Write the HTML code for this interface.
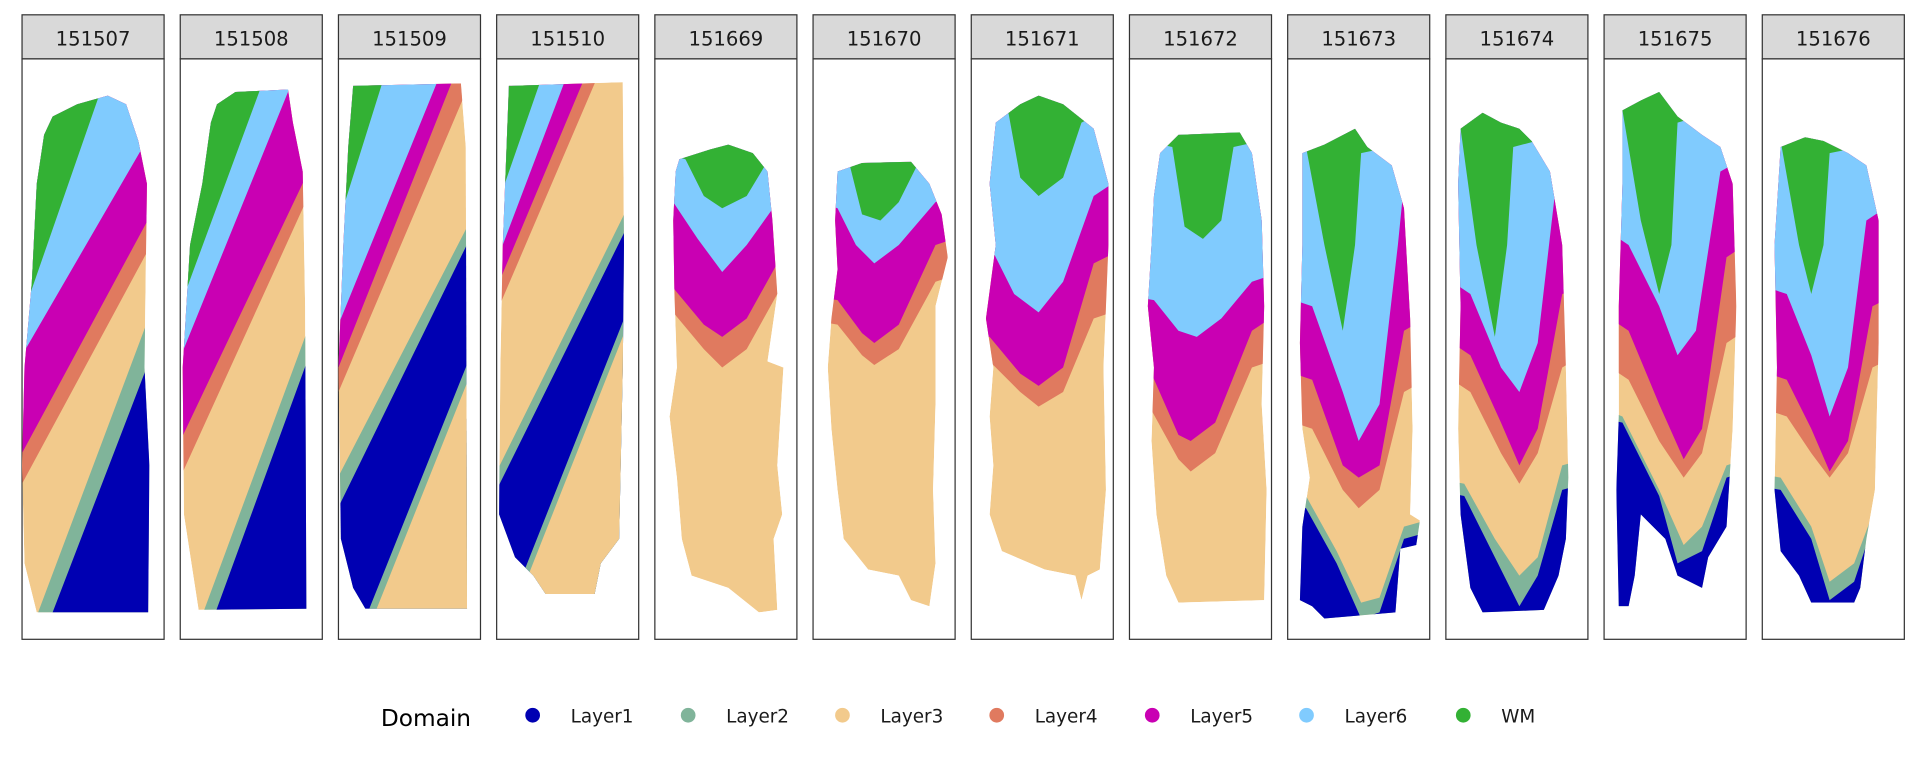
<!DOCTYPE html>
<html><head><meta charset="utf-8"><style>
html,body{margin:0;padding:0;background:#fff;width:1920px;height:768px;overflow:hidden;}
svg{display:block;font-family:"DejaVu Sans","Liberation Sans",sans-serif;}
</style></head><body>
<svg id="chart" width="1920" height="768" viewBox="0 0 1568 627" xmlns="http://www.w3.org/2000/svg" overflow="hidden">
<defs id="defs"></defs>
<g id="panels"></g>
<g id="legend">
<text x="311" y="593" font-size="19" fill="#000">Domain</text>
</g>
</svg>
<script>
const samples = ["151507","151508","151509","151510","151669","151670","151671","151672","151673","151674","151675","151676"];
const layerNames = ["Layer1","Layer2","Layer3","Layer4","Layer5","Layer6","WM"];
const layerColors = ["#0000b2","#80b49a","#f2ca8c","#e07a5f","#c900b3","#80cbfe","#33b134"];
// tissue outlines in local panel coordinates
const outlines = [
[[25,95],[45,85],[70,78],[85,85],[95,115],[102,150],[100,300],[104,380],[103,500],[12,500],[2,460],[0,380],[2,300],[8,230],[12,150],[18,110]],
[[30,85],[45,75],[88,73],[92,100],[100,140],[102,250],[103,497],[15,498],[3,420],[2,300],[8,200],[18,150],[25,100]],
[[12,70],[100,68],[104,120],[105,497],[22,497],[12,480],[2,440],[0,300],[4,200],[8,120]],
[[12,70],[103,67],[104,200],[103,300],[100,440],[85,460],[80,485],[40,485],[30,470],[15,455],[2,420],[3,300],[5,200],[10,70]],
[[20,130],[45,122],[60,118],[80,125],[92,140],[96,180],[100,240],[92,295],[105,300],[100,380],[104,420],[97,440],[100,498],[85,500],[60,480],[30,470],[22,440],[18,390],[12,340],[18,300],[16,240],[15,180],[17,140]],
[[20,140],[40,133],[80,132],[95,150],[105,175],[110,210],[100,250],[100,330],[98,400],[100,460],[95,495],[80,490],[70,470],[45,465],[25,440],[20,400],[15,350],[12,300],[15,260],[20,220],[18,180]],
[[20,100],[40,85],[55,78],[75,85],[100,105],[112,150],[112,200],[108,300],[110,400],[105,465],[95,470],[90,490],[85,470],[60,465],[25,450],[15,420],[18,380],[15,340],[18,300],[12,260],[20,200],[15,150]],
[[25,125],[40,110],[90,108],[100,125],[108,180],[110,250],[108,330],[112,400],[110,490],[40,492],[30,470],[22,420],[18,360],[20,300],[15,250],[18,200],[20,160]],
[[12,125],[30,118],[55,105],[65,120],[85,135],[95,170],[100,260],[102,350],[100,420],[108,425],[105,445],[92,448],[88,500],[30,505],[20,495],[10,490],[12,430],[18,390],[12,350],[10,280],[12,200]],
[[12,105],[30,92],[45,100],[60,105],[70,115],[85,140],[95,200],[98,300],[100,390],[98,440],[92,470],[80,498],[30,500],[20,480],[12,420],[10,350],[12,250],[10,150]],
[[15,90],[30,82],[45,75],[60,95],[80,110],[95,120],[105,150],[108,250],[105,350],[100,430],[85,455],[80,480],[60,470],[50,440],[30,420],[25,470],[20,495],[12,495],[10,400],[12,340],[12,250],[15,150]],
[[15,120],[35,112],[50,115],[70,125],[85,135],[95,180],[95,280],[92,400],[85,440],[80,480],[75,492],[40,492],[30,470],[15,450],[10,400],[12,300],[10,200]]
];
// band boundaries: [layerIndex, direction, polyline]
const bands = [
[[3,"up",[[0,395],[116,180]]],[4,"up",[[0,370],[116,155]]],[5,"up",[[0,290],[116,90]]],[6,"up",[[0,259],[116,-75]]],[1,"down",[[0,535],[116,226]]],[0,"down",[[0,565],[116,263]]]],
[[3,"up",[[0,390],[116,135]]],[4,"up",[[0,360],[116,116]]],[5,"up",[[0,292],[116,6]]],[6,"up",[[0,250],[116,-65]]],[1,"down",[[0,551],[116,237]]],[0,"down",[[0,579],[116,261]]]],
[[3,"up",[[0,320],[116,47]]],[4,"up",[[0,300],[116,8]]],[5,"up",[[0,265],[116,-20]]],[6,"up",[[0,182],[116,-189]]],[1,"down",[[0,389],[116,164]]],[0,"down",[[0,414],[116,177]]],[1,"down",[[0,560],[116,270]]],[2,"down",[[0,575],[116,285]]]],
[[3,"up",[[0,255],[116,-16]]],[4,"up",[[0,235],[116,-42]]],[5,"up",[[0,213],[116,-93]]],[6,"up",[[0,169],[116,-165]]],[1,"down",[[0,385],[116,151]]],[0,"down",[[0,400],[116,166]]],[1,"down",[[0,523],[116,230]]],[2,"down",[[0,535],[116,242]]]],
[[3,"up",[[-10,250],[15,255],[40,285],[55,300],[75,285],[100,240],[130,230]]],[4,"up",[[-10,230],[15,235],[40,265],[55,275],[75,260],[100,215],[130,205]]],[5,"up",[[-10,160],[15,165],[35,195],[55,222],[75,200],[100,165],[130,160]]],[6,"up",[[-10,120],[25,130],[40,160],[55,170],[75,160],[90,135],[130,120]]]],
[[3,"up",[[-10,260],[20,265],[40,290],[50,298],[70,285],[100,230],[130,220]]],[4,"up",[[-10,240],[20,245],[40,272],[50,280],[70,265],[100,200],[130,190]]],[5,"up",[[-10,160],[20,170],[35,200],[50,215],[70,200],[100,165],[130,150]]],[6,"up",[[-10,130],[30,135],[40,175],[55,180],[70,165],[85,135],[130,130]]]],
[[3,"up",[[-10,290],[15,295],[40,320],[55,332],[75,320],[100,260],[130,250]]],[4,"up",[[-10,270],[15,275],[40,305],[55,315],[75,300],[100,215],[130,200]]],[5,"up",[[-10,190],[15,200],[35,240],[55,255],[75,230],[100,160],[130,140]]],[6,"up",[[-10,80],[30,90],[40,145],[55,160],[75,145],[90,100],[130,80]]]],
[[3,"up",[[-10,330],[18,335],[40,375],[50,385],[70,370],[100,300],[130,290]]],[4,"up",[[-10,300],[18,305],[40,355],[50,360],[70,345],[100,270],[130,250]]],[5,"up",[[-10,240],[20,245],[40,270],[55,275],[75,260],[100,230],[130,220]]],[6,"up",[[-10,110],[35,120],[45,185],[60,195],[75,180],[85,120],[130,110]]]],
[[3,"up",[[-10,340],[20,350],[45,400],[58,415],[75,400],[95,320],[130,300]]],[4,"up",[[-10,300],[20,310],[45,380],[58,390],[75,380],[95,270],[130,250]]],[5,"up",[[-10,240],[20,250],[45,320],[58,360],[75,330],[90,200],[95,150],[130,130]]],[6,"up",[[-10,110],[15,120],[30,200],[45,270],[55,200],[60,125],[130,110]]],[1,"down",[[-10,400],[15,405],[40,450],[60,492],[75,488],[95,430],[130,420]]],[0,"down",[[-10,410],[15,415],[40,460],[60,505],[75,500],[95,440],[130,430]]]],
[[3,"up",[[-10,300],[20,320],[45,370],[60,395],[75,370],[95,300],[130,280]]],[4,"up",[[-10,270],[20,290],[45,345],[60,380],[75,350],[95,240],[130,230]]],[5,"up",[[-10,220],[20,240],[45,300],[60,320],[75,280],[90,150],[130,120]]],[6,"up",[[-10,100],[12,105],[25,200],[40,275],[50,200],[55,120],[130,100]]],[1,"down",[[-10,390],[15,395],[40,440],[60,470],[75,455],[95,380],[130,370]]],[0,"down",[[-10,400],[15,405],[40,455],[60,495],[75,470],[95,400],[130,390]]]],
[[3,"up",[[-10,290],[20,310],[45,360],[65,390],[80,370],[100,280],[130,260]]],[4,"up",[[-10,250],[20,270],[45,330],[65,375],[80,350],[100,210],[130,190]]],[5,"up",[[-10,180],[20,200],[45,250],[60,290],[75,270],[95,140],[130,120]]],[6,"up",[[-10,80],[15,90],[30,180],[45,240],[55,200],[60,100],[130,80]]],[1,"down",[[-10,330],[15,340],[45,400],[65,445],[80,430],[100,380],[130,370]]],[0,"down",[[-10,340],[15,345],[45,405],[60,460],[80,450],[100,390],[130,380]]]],
[[3,"up",[[-10,330],[20,340],[40,370],[55,390],[70,370],[90,300],[130,280]]],[4,"up",[[-10,300],[20,310],[40,350],[55,385],[70,360],[90,250],[130,230]]],[5,"up",[[-10,230],[20,240],[40,290],[55,340],[70,300],[85,180],[130,150]]],[6,"up",[[-10,110],[15,115],[30,200],[40,240],[50,200],[55,125],[130,110]]],[1,"down",[[-10,385],[15,390],[40,430],[55,475],[75,460],[90,420],[130,410]]],[0,"down",[[-10,395],[15,400],[40,440],[55,490],[75,475],[90,430],[130,420]]]]
];

const NS="http://www.w3.org/2000/svg";
const svg=document.getElementById("chart");
const defs=document.getElementById("defs");
const panelsG=document.getElementById("panels");
const P0=18, PITCH=129.2, PW=116, STRIP_T=12, STRIP_B=48, BODY_B=522;
function mk(t,a){const e=document.createElementNS(NS,t);for(const k in a)e.setAttribute(k,a[k]);return e;}
function pts(arr,ox){return arr.map(p=>(p[0]+ox)+","+p[1]).join(" ");}
// clip a polyline to y >= 0 by interpolating crossings
function clipTop(line){
  const out=[];
  for(let k=0;k<line.length;k++){
    const p=line[k];
    if(k>0){
      const q=line[k-1];
      if((q[1]<0)!==(p[1]<0)){
        const t=(0-q[1])/(p[1]-q[1]);
        out.push([q[0]+t*(p[0]-q[0]),0]);
      }
    }
    if(p[1]>=0) out.push(p);
  }
  return out.length?out:[[line[0][0],0],[line[line.length-1][0],0]];
}

samples.forEach((s,i)=>{
  const ox=P0+i*PITCH;
  const g=mk("g",{});
  
  
  const strip=mk("rect",{x:ox,y:STRIP_T,width:PW,height:STRIP_B-STRIP_T,fill:"#d9d9d9",stroke:"#333",'stroke-width':1});
  
  
  g.appendChild(strip);
  const st=mk("text",{x:ox+PW/2,y:37,'font-size':16,'text-anchor':'middle',fill:"#1a1a1a"});
  st.textContent=s;
  
  
  g.appendChild(st);
  const body=mk("rect",{x:ox,y:STRIP_B,width:PW,height:BODY_B-STRIP_B,fill:"#fff",stroke:"#333",'stroke-width':1});
  
  
  g.appendChild(body);
  const cp=mk("clipPath",{id:"clip"+i});
  cp.appendChild(mk("polygon",{points:pts(outlines[i],ox)}));
  defs.appendChild(cp);
  const tg=mk("g",{'clip-path':"url(#clip"+i+")"});
  
  
  const base=mk("polygon",{points:pts(outlines[i],ox),fill:layerColors[2]});
  
  
  tg.appendChild(base);
  bands[i].forEach(b=>{
    const [li,dir,rawLine]=b;
    const line=clipTop(rawLine);
    const yEdge = dir==="up" ? 0 : 620;
    const poly=line.slice();
    poly.push([line[line.length-1][0]+40,line[line.length-1][1]]);
    poly.unshift([line[0][0]-40,line[0][1]]);
    poly.push([poly[poly.length-1][0],yEdge]);
    poly.push([poly[0][0],yEdge]);
    const pg=mk("polygon",{points:pts(poly,ox),fill:layerColors[li]});
    
    
    tg.appendChild(pg);
  });
  g.appendChild(tg);
  panelsG.appendChild(g);
});

const legend=document.getElementById("legend");
const legDotX=[435,562,688,814,941,1067,1195];
layerNames.forEach((n,i)=>{
  const c=mk("circle",{cx:legDotX[i],cy:584,r:6,fill:layerColors[i]});
  
  
  legend.appendChild(c);
  const t=mk("text",{x:legDotX[i]+31,y:590,'font-size':15,fill:"#1a1a1a"});
  t.textContent=n;
  
  
  legend.appendChild(t);
});
</script>
</body></html>
